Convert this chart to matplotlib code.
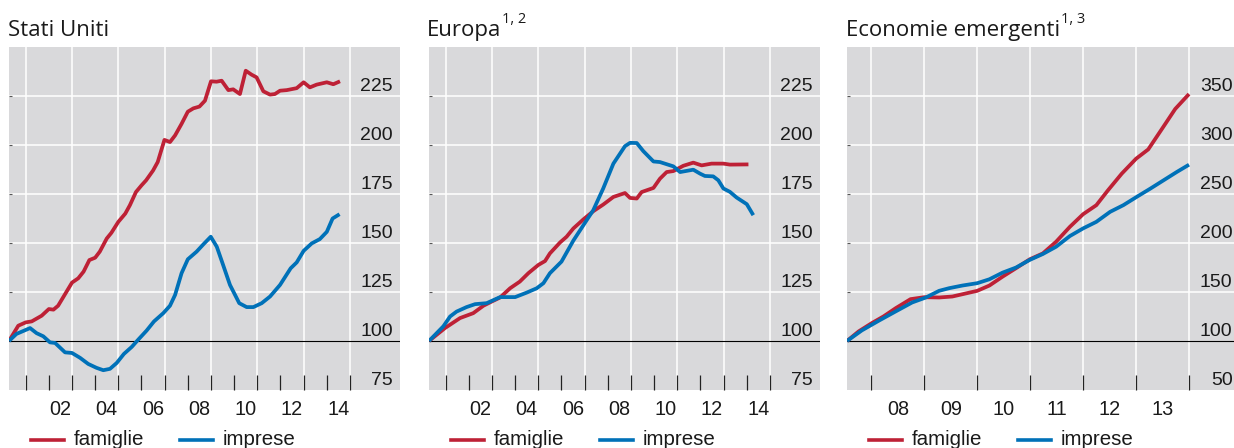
import matplotlib
matplotlib.use('Agg')
import matplotlib.pyplot as plt
from matplotlib.lines import Line2D

# ---------------- data ----------------
us_fam_x = [2000.28, 2000.68, 2001.0, 2001.26, 2001.69, 2002.0, 2002.2, 2002.4, 2003.0, 2003.27,
            2003.5, 2003.75, 2004.0, 2004.2, 2004.5, 2004.7, 2005.0, 2005.3, 2005.5, 2005.76,
            2006.0, 2006.2, 2006.5, 2006.7, 2006.99, 2007.23, 2007.45, 2007.73, 2008.0, 2008.24,
            2008.5, 2008.74, 2009.0, 2009.24, 2009.46, 2009.75, 2009.96, 2010.25, 2010.5, 2010.75,
            2010.97, 2011.26, 2011.55, 2011.76, 2011.98, 2012.27, 2012.7, 2013.0, 2013.27, 2013.56,
            2014.0, 2014.28, 2014.57]
us_fam_y = [100, 107.8, 109.5, 110, 112.9, 116.3, 116, 118, 129.8, 132,
            135.4, 141.3, 142.5, 145.6, 152.3, 155.2, 160.8, 165, 169.3, 176,
            179.4, 182, 187, 191.3, 202.6, 201.5, 204.9, 210.8, 217, 218.7,
            219.6, 222.6, 232.5, 232.3, 232.8, 228, 228.4, 226, 237.9, 235.9,
            234.5, 227.4, 225.7, 226, 227.7, 228, 229, 232, 229.4, 230.8,
            232, 231, 232.5]
us_imp_x = [2000.28, 2000.6, 2001.19, 2001.47, 2001.76, 2002.05, 2002.27, 2002.7, 2003.0, 2003.35,
            2003.7, 2004.06, 2004.35, 2004.64, 2004.93, 2005.24, 2005.58, 2005.86, 2006.22, 2006.54,
            2006.94, 2007.23, 2007.45, 2007.73, 2008.0, 2008.38, 2008.67, 2008.99, 2009.25, 2009.5,
            2009.82, 2010.22, 2010.54, 2010.83, 2011.19, 2011.55, 2011.98, 2012.44, 2012.7, 2013.0,
            2013.35, 2013.7, 2014.0, 2014.25, 2014.55]
us_imp_y = [100, 103.6, 106.6, 104, 102.4, 99.3, 99, 94.2, 93.9, 91.4,
            88.3, 86.3, 85.1, 85.8, 88.8, 93.4, 97, 100.7, 105.3, 110,
            114.2, 118, 123.5, 134.6, 141.7, 145.6, 149.3, 153.2, 148.1, 139.6,
            128.6, 119.3, 117.3, 117.3, 119.3, 122.7, 128.6, 137.1, 140.1, 146,
            149.8, 152, 155.7, 162.5, 164.7]

eu_fam_x = [2000.28, 2000.97, 2001.62, 2002.19, 2002.63, 2003.0, 2003.35, 2003.78, 2004.2, 2004.57,
            2005.0, 2005.29, 2005.5, 2005.94, 2006.22, 2006.51, 2006.94, 2007.37, 2007.8, 2008.24,
            2008.74, 2008.96, 2009.25, 2009.46, 2009.97, 2010.25, 2010.54, 2010.83, 2011.26, 2011.69,
            2012.05, 2012.48, 2012.99, 2013.27, 2014.07]
eu_fam_y = [100, 106.6, 111.7, 114.2, 118, 120.2, 122.2, 126.9, 130.3, 134.6,
            138.8, 140.8, 144.7, 150.3, 153.2, 157.4, 162, 166.2, 169.6, 173.5,
            175.5, 173, 172.7, 176, 178.1, 182.8, 186.2, 186.7, 189.4, 191,
            189.6, 190.5, 190.5, 190, 190.1]
eu_imp_x = [2000.28, 2000.9, 2001.19, 2001.47, 2001.9, 2002.27, 2002.77, 2003.35, 2004.0, 2004.5,
            2004.93, 2005.22, 2005.5, 2006.0, 2006.51, 2007.09, 2007.37, 2007.8, 2008.24, 2008.74,
            2008.96, 2009.25, 2009.53, 2009.97, 2010.25, 2010.83, 2011.12, 2011.69, 2011.98, 2012.19,
            2012.55, 2012.77, 2012.99, 2013.27, 2013.56, 2014.0, 2014.28]
eu_imp_y = [100, 107.5, 112.5, 115, 117.3, 118.8, 119.3, 122.4, 122.4, 124.7,
            126.9, 129.5, 134.6, 140.5, 151.2, 161.7, 166.7, 177.8, 190.5, 199.4,
            201.1, 201, 196.9, 191.6, 191.3, 189.1, 186.2, 187.4, 185.4, 184.2,
            184, 182, 177.8, 176.1, 173.2, 169.8, 164.2]

em_fam_x = [2007.54, 2007.76, 2008.01, 2008.23, 2008.46, 2008.74, 2009.0, 2009.28, 2009.53, 2009.75,
            2010.0, 2010.23, 2010.48, 2010.73, 2010.99, 2011.24, 2011.49, 2011.75, 2012.0, 2012.25,
            2012.47, 2012.73, 2013.0, 2013.23, 2013.49, 2013.74, 2014.0]
em_fam_y = [100, 109.8, 118.3, 125.1, 133.5, 142.7, 144.7, 144.4, 145.4, 148.1,
            151.2, 156.6, 165.7, 174.2, 183.3, 189.4, 201.3, 216.5, 229.4, 238.6,
            253.8, 270.8, 286, 295.5, 316.5, 336.8, 352]
em_imp_x = [2007.54, 2007.82, 2008.14, 2008.46, 2008.77, 2009.03, 2009.28, 2009.47, 2009.72, 2010.0,
            2010.23, 2010.48, 2010.73, 2010.99, 2011.24, 2011.49, 2011.75, 2012.0, 2012.25, 2012.51,
            2012.76, 2013.01, 2013.27, 2013.52, 2013.77, 2014.0]
em_imp_y = [100, 110.8, 120.7, 130.2, 139.3, 144.4, 151.2, 153.9, 156.6, 159,
            163, 169.8, 174.9, 182.7, 188.8, 196.2, 207.1, 214.9, 221.6, 231.8,
            238.6, 247, 255.5, 264, 272.5, 279.9]

yticks_a = [75, 100, 125, 150, 175, 200, 225]
yticks_c = [50, 100, 150, 200, 250, 300, 350]
years_a = list(range(2001, 2016))
labels_a = ['02', '04', '06', '08', '10', '12', '14']
years_c = list(range(2008, 2015))
labels_c = ['08', '09', '10', '11', '12', '13']
titles = ['Stati Uniti', 'Europa', 'Economie emergenti']
sups = ['', '1, 2', '1, 3']
legend_labels = ['famiglie', 'imprese']

# ---------------- style ----------------
RED = '#BE2136'
BLUE = '#0071B8'
BG = '#D9D9DB'
TXT = '#1a1a1a'
NUMFONT = 'Liberation Sans'
TITLEFONT = 'Open Sans'

W, H = 1234, 448
fig = plt.figure(figsize=(W / 100, H / 100), dpi=100)


def panel(left_px, right_px, xlim, ylim, yticks, year_ticks, grid_years,
          label_pos, label_txt, series, pad):
    ax = fig.add_axes([left_px / W, 1 - 390 / H, (right_px - left_px) / W, (390 - 47) / H])
    ax.set_facecolor(BG)
    for s in ax.spines.values():
        s.set_visible(False)
    ax.set_xlim(*xlim)
    ax.set_ylim(*ylim)
    for gy in yticks[1:]:
        if gy == 100:
            continue
        ax.axhline(gy, color='white', lw=1.1, zorder=1)
    for gx in grid_years:
        ax.axvline(gx, color='white', lw=1.1, zorder=1)
    ax.axhline(100, color='black', lw=0.8, zorder=2)
    ax.set_xticks(year_ticks)
    ax.set_xticklabels([])
    ax.set_xticks(label_pos, minor=True)
    ax.set_xticklabels(label_txt, minor=True, fontsize=14.3, family=NUMFONT, color=TXT)
    ax.tick_params(axis='x', which='major', direction='in', length=11, width=0.9, color='#222222')
    ax.tick_params(axis='x', which='minor', length=0, pad=7.5)
    ax.set_yticks(yticks[1:])
    ax.set_yticklabels([])
    ax.tick_params(axis='y', direction='in', length=2, width=0.8, color='#555555')
    for v in yticks:
        ax.annotate(str(v), xy=(1, v), xycoords=('axes fraction', 'data'),
                    xytext=(pad, 1.0), textcoords='offset points', ha='right', va='bottom',
                    fontsize=14, family=NUMFONT, color=TXT, annotation_clip=False)
    for x, y, c in series:
        ax.plot(x, y, color=c, lw=2.7, zorder=3, solid_capstyle='butt', solid_joinstyle='round')
    return ax


panel(9, 400, (2000.28, 2017.16), (75, 250), yticks_a, years_a, years_a[::2],
      [y + 1.5 for y in range(2001, 2015, 2)], labels_a,
      [(us_fam_x, us_fam_y, RED), (us_imp_x, us_imp_y, BLUE)], -5)
panel(429, 820, (2000.28, 2017.16), (75, 250), yticks_a, years_a, years_a[::2],
      [y + 1.5 for y in range(2001, 2015, 2)], labels_a,
      [(eu_fam_x, eu_fam_y, RED), (eu_imp_x, eu_imp_y, BLUE)], -5)
panel(847, 1234, (2007.54, 2014.85), (50, 400), yticks_c, years_c, years_c,
      [y + 0.5 for y in range(2008, 2014)], labels_c,
      [(em_fam_x, em_fam_y, RED), (em_imp_x, em_imp_y, BLUE)], -1)

# titles
title_left = [8, 427, 846]
fig.canvas.draw()
renderer = fig.canvas.get_renderer()
for xl, t, s in zip(title_left, titles, sups):
    tt = fig.text(xl / W, 1 - 36 / H, t, fontsize=16, family=TITLEFONT, color=TXT, va='baseline')
    if s:
        bb = tt.get_window_extent(renderer=renderer)
        fig.text((bb.x1 + 0.5) / W, 1 - 23 / H, s, fontsize=10.5, family=TITLEFONT, color=TXT,
                 va='baseline')

# legends
leg_pos = [(31, 180), (451, 600), (869, 1018)]
for r0, b0 in leg_pos:
    for x0, c, lab in [(r0, RED, legend_labels[0]), (b0, BLUE, legend_labels[1])]:
        fig.add_artist(Line2D([x0 / W, (x0 + 33) / W], [1 - 440 / H, 1 - 440 / H],
                              color=c, lw=2.6, transform=fig.transFigure))
        fig.text((x0 + 43) / W, 1 - 444.5 / H, lab, fontsize=14.8, family=NUMFONT, color=TXT,
                 va='baseline')

fig.savefig('out.png', dpi=100, facecolor='white')
